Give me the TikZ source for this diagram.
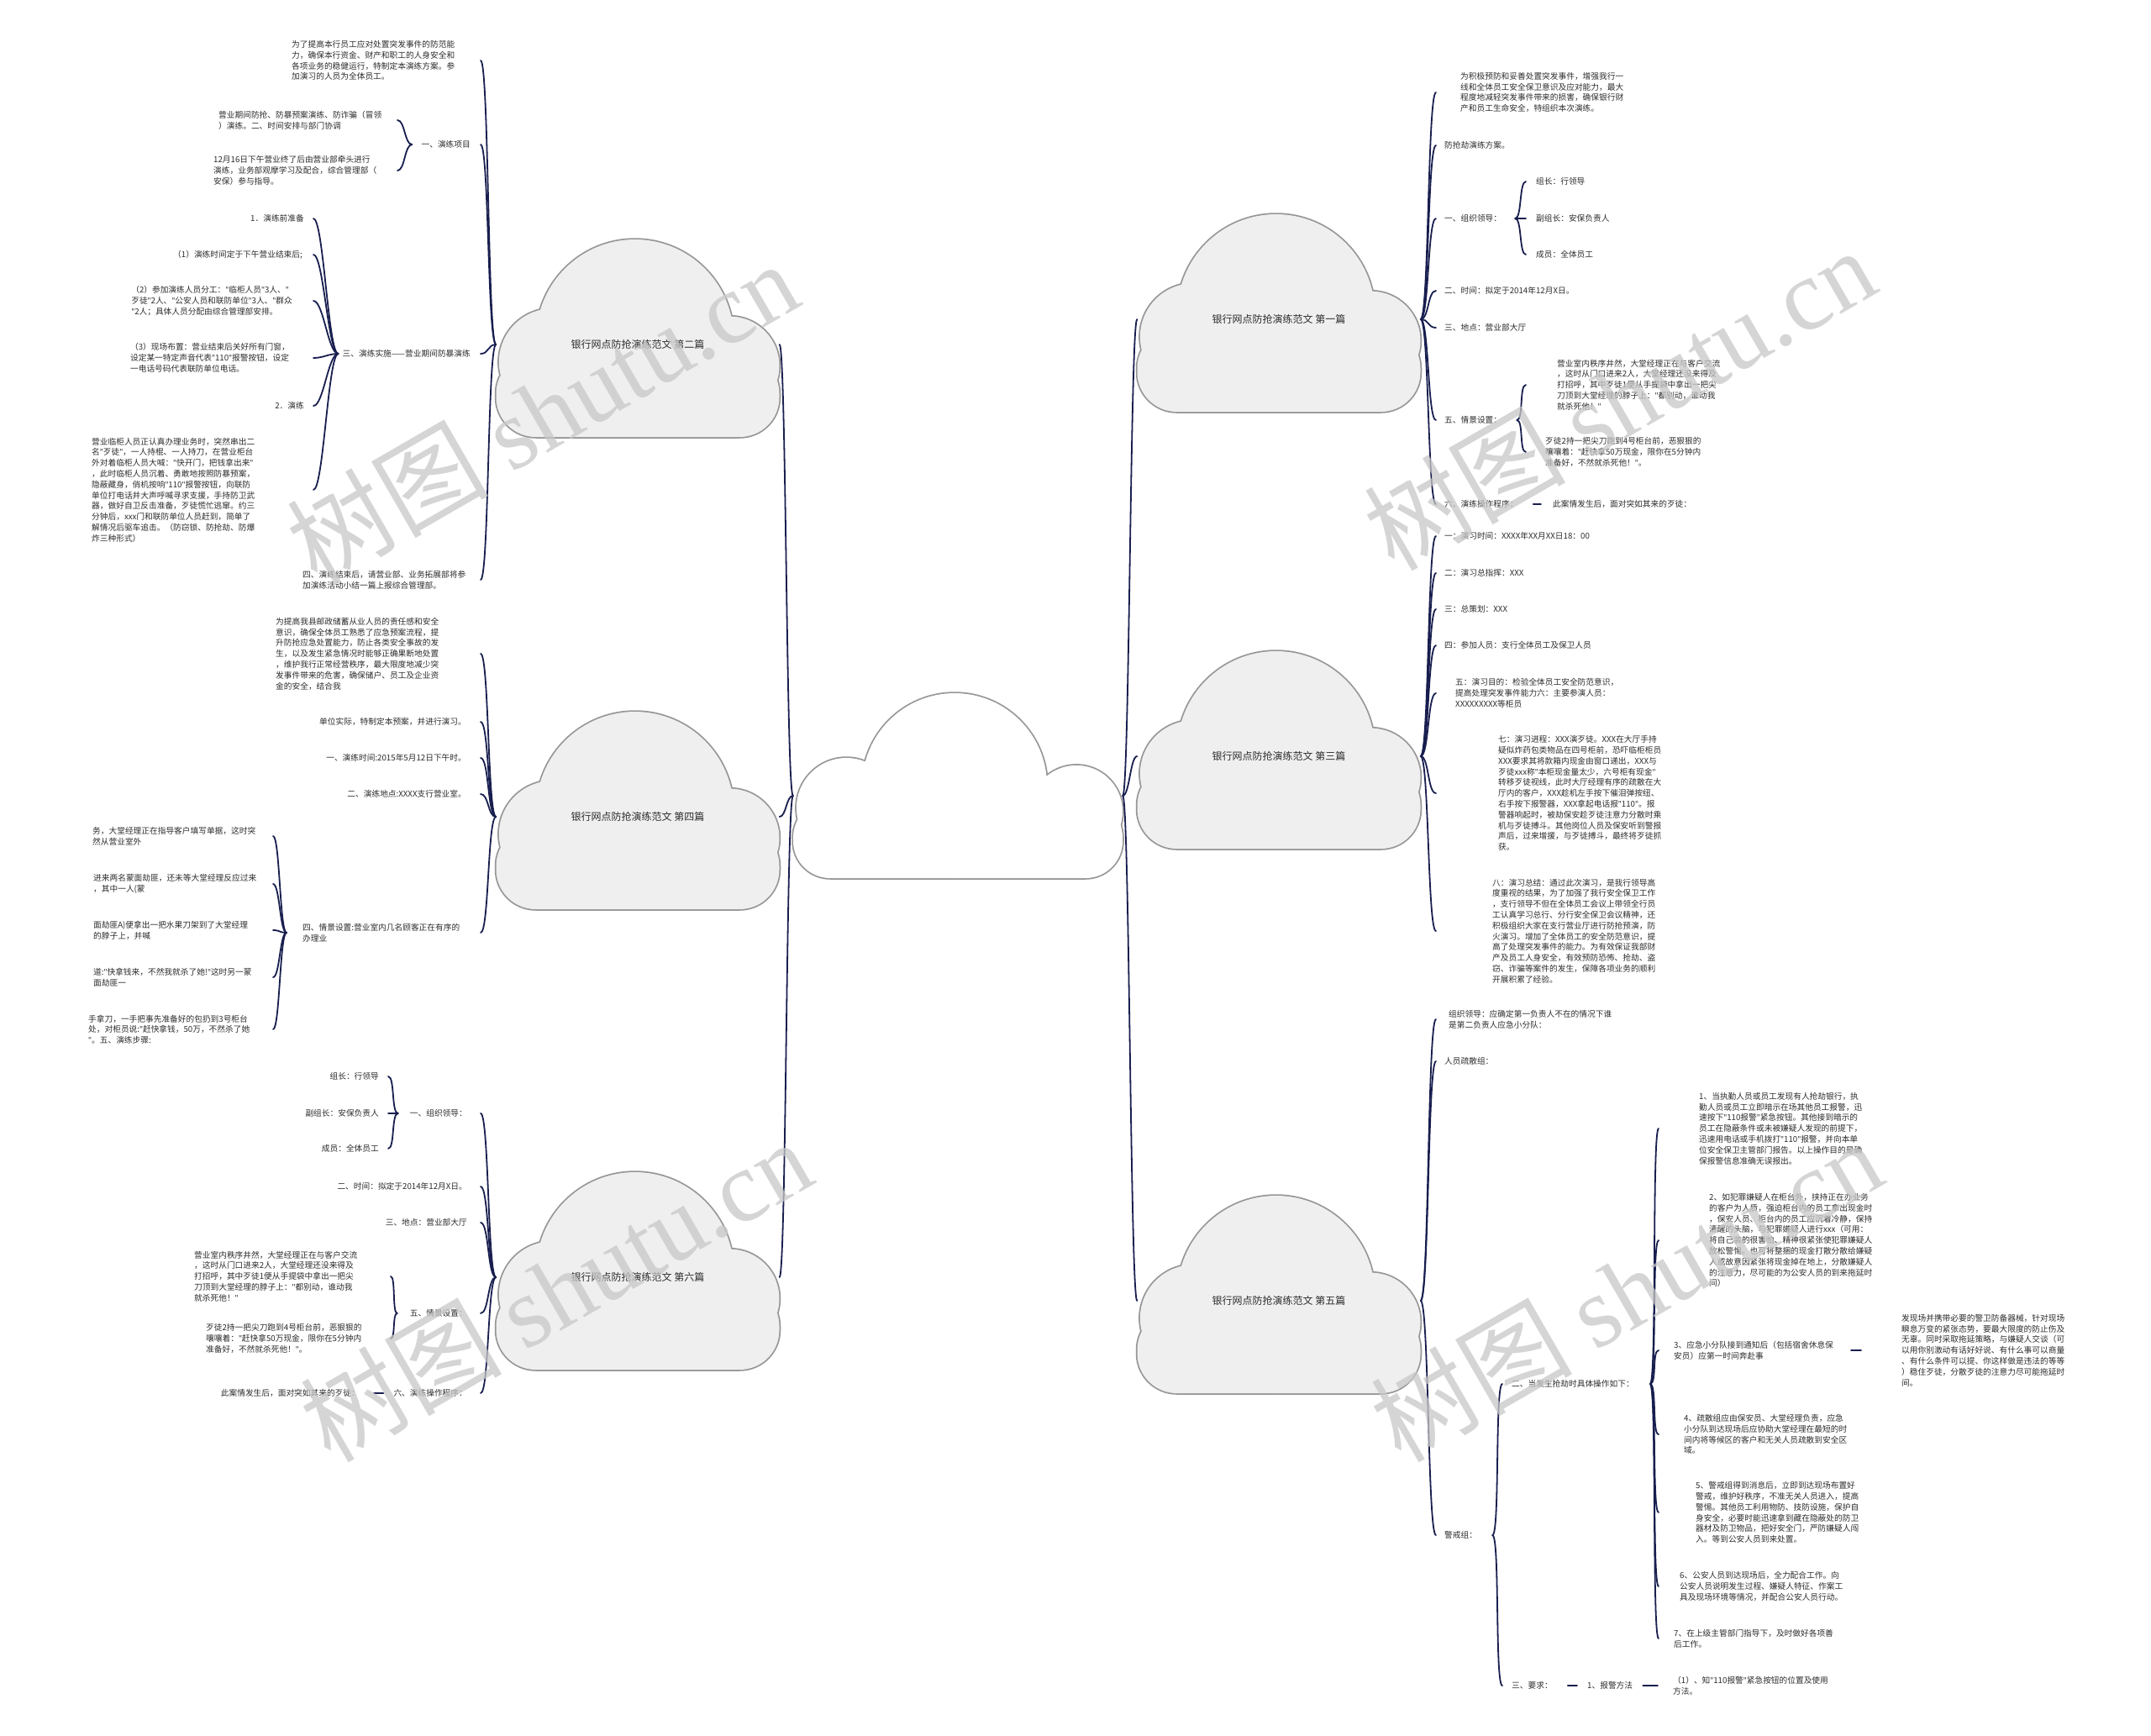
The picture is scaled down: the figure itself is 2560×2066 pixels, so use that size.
\documentclass[tikz,border=0pt]{standalone}
\usepackage{fontspec}
\setmainfont{Noto Sans CJK SC}
\newfontfamily\wmserif{Liberation Serif}
\newfontfamily\qf{Noto Sans}
\usetikzlibrary{calc}
\definecolor{txtc}{RGB}{45,45,45}
\definecolor{connc}{RGB}{24,30,78}
\definecolor{cloudline}{RGB}{150,150,150}
\definecolor{cloudfill}{RGB}{239,239,239}
\definecolor{wmc}{RGB}{200,200,200}
\tikzset{
 txt/.style={font=\fontsize{9.7}{12.8}\selectfont, text=txtc, inner sep=0pt, align=left},
 ctitle/.style={font=\fontsize{12}{14}\selectfont, text=txtc, minimum width=337pt, inner sep=0pt, align=center},
 conn/.style={draw=connc, line width=1.8pt, line cap=round},
 cloudedge/.style={draw=cloudline, line width=3.5pt},
 wm/.style={font=\fontsize{120}{130}\selectfont, text=wmc, text opacity=0.75, rotate=30, inner sep=0pt},
}
\newcommand{\lkL}[3]{\draw[conn] (#1) .. controls +(-#3,0) and +(#3,0) .. (#2);}
\newcommand{\lkR}[3]{\draw[conn] (#1) .. controls +(#3,0) and +(-#3,0) .. (#2);}
\newcommand{\cloudpass}[1]{%
\path[#1] (\bx,\rb) circle[radius=\rb];
\path[#1] (\lx,\ly) circle[radius=\rl];
\path[#1] (\rx,\ry) circle[radius=\rr];
\path[#1,rounded corners=\rc pt] (0,\bt) rectangle (\cW,\cH);}
\newcommand{\cloudshape}[5]{%
\begin{scope}[shift={(#1,#2)}]
\pgfmathsetmacro\cW{#3}\pgfmathsetmacro\cH{#4}%
\pgfmathsetmacro\rb{0.5*\cH}\pgfmathsetmacro\bx{0.49*\cW}%
\pgfmathsetmacro\rl{0.27*\cH}\pgfmathsetmacro\lx{\rl+0.01*\cW}\pgfmathsetmacro\ly{0.62*\cH}%
\pgfmathsetmacro\rr{0.25*\cH}\pgfmathsetmacro\rx{\cW-\rr}\pgfmathsetmacro\ry{0.64*\cH}%
\pgfmathsetmacro\rc{0.2*\cH}\pgfmathsetmacro\bt{0.58*\cH}%
\cloudpass{cloudedge,fill=#5}
\cloudpass{fill=#5}
\end{scope}}

\begin{document}
{\catcode`\"=\active \gdef"{{\qf\char34 }}}
\catcode`\"=\active
\begin{tikzpicture}[x=1pt,y=-1pt]
\useasboundingbox (0,0) rectangle (2560,2066);
\fill[white] (0,0) rectangle (2560,2066);

% ---------- clouds ----------
\cloudshape{944}{825}{392}{220}{white}
\cloudshape{590.5}{285}{337}{235}{cloudfill}
\cloudshape{590.5}{847}{337}{235}{cloudfill}
\cloudshape{590.5}{1395}{337}{235}{cloudfill}
\cloudshape{1353.5}{255}{337}{235}{cloudfill}
\cloudshape{1353.5}{775}{337}{235}{cloudfill}
\cloudshape{1353.5}{1423}{337}{235}{cloudfill}

\node[minimum width=392pt, minimum height=1pt, inner sep=0pt] (c0) at (1140,947) {};
\node[ctitle] (c2) at (759,410) {银行网点防抢演练范文 第二篇};
\node[ctitle] (c4) at (759,972) {银行网点防抢演练范文 第四篇};
\node[ctitle] (c6) at (759,1520) {银行网点防抢演练范文 第六篇};
\node[ctitle] (c1) at (1522,380) {银行网点防抢演练范文 第一篇};
\node[ctitle] (c3) at (1522,900) {银行网点防抢演练范文 第三篇};
\node[ctitle] (c5) at (1522,1548) {银行网点防抢演练范文 第五篇};

\lkL{c0.west}{c2.east}{8}
\lkL{c0.west}{c4.east}{8}
\lkL{c0.west}{c6.east}{8}
\lkR{c0.east}{c1.west}{8}
\lkR{c0.east}{c3.west}{8}
\lkR{c0.east}{c5.west}{8}

\coordinate (LX) at (572,0);
\coordinate (RX) at (1709,0);

% ---------- 第二篇 ----------
\node[txt,anchor=west] (n2a) at (347,72) {为了提高本行员工应对处置突发事件的防范能\\力，确保本行资金、财产和职工的人身安全和\\各项业务的稳健运行，特制定本演练方案。参\\加演习的人员为全体员工。};
\node[txt,anchor=east] (n2b) at (560,172) {一、演练项目};
\node[txt,anchor=west] (n2b1) at (260,143) {营业期间防抢、防暴预案演练、防诈骗（冒领\\）演练。二、时间安排与部门协调};
\node[txt,anchor=west] (n2b2) at (254,203) {12月16日下午营业终了后由营业部牵头进行\\演练，业务部观摩学习及配合，综合管理部（\\安保）参与指导。};
\node[txt,anchor=east] (n2c) at (560,421) {三、演练实施——营业期间防暴演练};
\node[txt,anchor=east] (n2c1) at (362,260) {1．演练前准备};
\node[txt,anchor=east] (n2c2) at (360,303) {（1）演练时间定于下午营业结束后;};
\node[txt,anchor=east] (n2c3) at (348,358) {（2）参加演练人员分工："临柜人员"3人、"\\歹徒"2人、"公安人员和联防单位"3人、"群众\\"2人；具体人员分配由综合管理部安排。};
\node[txt,anchor=east] (n2c4) at (345,426) {（3）现场布置：营业结束后关好所有门窗，\\设定某一特定声音代表"110"报警按钮，设定\\一电话号码代表联防单位电话。};
\node[txt,anchor=east] (n2c5) at (362,483) {2．演练};
\node[txt,anchor=west] (n2c6) at (109,583) {营业临柜人员正认真办理业务时，突然串出二\\名"歹徒"，一人持棍、一人持刀，在营业柜台\\外对着临柜人员大喊："快开门，把钱拿出来"\\，此时临柜人员沉着、勇敢地按照防暴预案，\\隐蔽藏身，俏机按响"110"报警按钮，向联防\\单位打电话并大声呼喊寻求支援，手持防卫武\\器，做好自卫反击准备，歹徒慌忙逃窜。约三\\分钟后，xxx门和联防单位人员赶到，简单了\\解情况后驱车追击。（防窃锁、防抢劫、防爆\\炸三种形式）};
\node[txt,anchor=west] (n2d) at (360,690) {四、演练结束后，请营业部、业务拓展部将参\\加演练活动小结一篇上报综合管理部。};

\lkL{c2.west}{n2a -| LX}{10}
\lkL{c2.west}{n2b -| LX}{10}
\lkL{c2.west}{n2c -| LX}{10}
\lkL{c2.west}{n2d -| LX}{10}
\coordinate (B2b) at (473,0);
\lkL{[xshift=-11pt]n2b.west}{n2b1 -| B2b}{9}
\lkL{[xshift=-11pt]n2b.west}{n2b2 -| B2b}{9}
\coordinate (B2c) at (373,0);
\foreach \k in {n2c1,n2c2,n2c3,n2c4,n2c5,n2c6}{\lkL{[xshift=-5pt]n2c.west}{\k -| B2c}{12}}

% ---------- 第四篇 ----------
\node[txt,anchor=west] (n4a) at (328,778) {为提高我县邮政储蓄从业人员的责任感和安全\\意识，确保全体员工熟悉了应急预案流程，提\\升防抢应急处置能力，防止各类安全事故的发\\生，以及发生紧急情况时能够正确果断地处置\\，维护我行正常经营秩序，最大限度地减少突\\发事件带来的危害，确保储户、员工及企业资\\金的安全，结合我};
\node[txt,anchor=east] (n4b) at (555,859) {单位实际，特制定本预案，并进行演习。};
\node[txt,anchor=east] (n4c) at (555,902) {一、演练时间:2015年5月12日下午时。};
\node[txt,anchor=east] (n4d) at (555,945) {二、演练地点:XXXX支行营业室。};
\node[txt,anchor=west] (n4e) at (360,1110) {四、情景设置:营业室内几名顾客正在有序的\\办理业};
\node[txt,anchor=west] (n4e1) at (110,995) {务，大堂经理正在指导客户填写单据，这时突\\然从营业室外};
\node[txt,anchor=west] (n4e2) at (111,1052) {进来两名蒙面劫匪，还未等大堂经理反应过来\\，其中一人(蒙};
\node[txt,anchor=west] (n4e3) at (111,1107) {面劫匪A)便拿出一把水果刀架到了大堂经理\\的脖子上，并喊};
\node[txt,anchor=west] (n4e4) at (111,1163) {道:"快拿钱来，不然我就杀了她!"这时另一蒙\\面劫匪一};
\node[txt,anchor=west] (n4e5) at (105,1225) {手拿刀，一手把事先准备好的包扔到3号柜台\\处，对柜员说:"赶快拿钱，50万，不然杀了她\\"。五、演练步骤:};

\foreach \k in {n4a,n4b,n4c,n4d,n4e}{\lkL{c4.west}{\k -| LX}{10}}
\coordinate (B4e) at (325,0);
\foreach \k in {n4e1,n4e2,n4e3,n4e4,n4e5}{\lkL{[xshift=-19pt]n4e.west}{\k -| B4e}{8}}

% ---------- 第六篇 ----------
\node[txt,anchor=east] (n6a) at (556,1325) {一、组织领导：};
\node[txt,anchor=east] (n6a1) at (451,1281) {组长：行领导};
\node[txt,anchor=east] (n6a2) at (451,1325) {副组长：安保负责人};
\node[txt,anchor=east] (n6a3) at (451,1367) {成员：全体员工};
\node[txt,anchor=east] (n6b) at (556,1412) {二、时间：拟定于2014年12月X日。};
\node[txt,anchor=east] (n6c) at (556,1455) {三、地点：营业部大厅};
\node[txt,anchor=east] (n6d) at (556,1563) {五、情景设置：};
\node[txt,anchor=west] (n6d1) at (231,1519) {营业室内秩序井然，大堂经理正在与客户交流\\，这时从门口进来2人，大堂经理还没来得及\\打招呼，其中歹徒1便从手提袋中拿出一把尖\\刀顶到大堂经理的脖子上："都别动，谁动我\\就杀死他！"};
\node[txt,anchor=west] (n6d2) at (245,1593) {歹徒2持一把尖刀跑到4号柜台前，恶狠狠的\\嚷嚷着："赶快拿50万现金，限你在5分钟内\\准备好，不然就杀死他！"。};
\node[txt,anchor=east] (n6e) at (556,1658) {六、演练操作程序：};
\node[txt,anchor=east] (n6e1) at (428,1658) {此案情发生后，面对突如其来的歹徒：};

\foreach \k in {n6a,n6b,n6c,n6d,n6e}{\lkL{c6.west}{\k -| LX}{10}}
\coordinate (B6a) at (462,0);
\foreach \k in {n6a1,n6a2,n6a3}{\lkL{[xshift=-14pt]n6a.west}{\k -| B6a}{8}}
\coordinate (B6d) at (465,0);
\foreach \k in {n6d1,n6d2}{\lkL{[xshift=-15pt]n6d.west}{\k -| B6d}{6}}
\draw[conn] ([xshift=-12pt]n6e.west) -- ([xshift=17pt]n6e1.east);

% ---------- 第一篇 ----------
\node[txt,anchor=west] (n1a) at (1738,110) {为积极预防和妥善处置突发事件，增强我行一\\线和全体员工安全保卫意识及应对能力，最大\\程度地减轻突发事件带来的损害，确保银行财\\产和员工生命安全，特组织本次演练。};
\node[txt,anchor=west] (n1b) at (1719,173) {防抢劫演练方案。};
\node[txt,anchor=west] (n1c) at (1719,260) {一、组织领导：};
\node[txt,anchor=west] (n1c1) at (1828,216) {组长：行领导};
\node[txt,anchor=west] (n1c2) at (1828,260) {副组长：安保负责人};
\node[txt,anchor=west] (n1c3) at (1828,303) {成员：全体员工};
\node[txt,anchor=west] (n1d) at (1719,346) {二、时间：拟定于2014年12月X日。};
\node[txt,anchor=west] (n1e) at (1719,390) {三、地点：营业部大厅};
\node[txt,anchor=west] (n1f) at (1719,500) {五、情景设置：};
\node[txt,anchor=west] (n1f1) at (1853,458) {营业室内秩序井然，大堂经理正在与客户交流\\，这时从门口进来2人，大堂经理还没来得及\\打招呼，其中歹徒1便从手提袋中拿出一把尖\\刀顶到大堂经理的脖子上："都别动，谁动我\\就杀死他！"};
\node[txt,anchor=west] (n1f2) at (1839,538) {歹徒2持一把尖刀跑到4号柜台前，恶狠狠的\\嚷嚷着："赶快拿50万现金，限你在5分钟内\\准备好，不然就杀死他！"。};
\node[txt,anchor=west] (n1g) at (1719,600) {六、演练操作程序：};
\node[txt,anchor=west] (n1g1) at (1848,600) {此案情发生后，面对突如其来的歹徒：};

\foreach \k in {n1a,n1b,n1c,n1d,n1e,n1f,n1g}{\lkR{c1.east}{\k -| RX}{10}}
\coordinate (B1c) at (1816,0);
\foreach \k in {n1c1,n1c2,n1c3}{\lkR{[xshift=16pt]n1c.east}{\k -| B1c}{8}}
\coordinate (B1f) at (1816,0);
\foreach \k in {n1f1,n1f2}{\lkR{[xshift=18pt]n1f.east}{\k -| B1f}{8}}
\draw[conn] ([xshift=18pt]n1g.east) -- ([xshift=-14pt]n1g1.west);

% ---------- 第三篇 ----------
\node[txt,anchor=west] (n3a) at (1719,638) {一：演习时间：XXXX年XX月XX日18：00};
\node[txt,anchor=west] (n3b) at (1719,682) {二：演习总指挥：XXX};
\node[txt,anchor=west] (n3c) at (1719,725) {三：总策划：XXX};
\node[txt,anchor=west] (n3d) at (1719,768) {四：参加人员：支行全体员工及保卫人员};
\node[txt,anchor=west] (n3e) at (1732,825) {五：演习目的：检验全体员工安全防范意识，\\提高处理突发事件能力六：主要参演人员：\\XXXXXXXXX等柜员};
\node[txt,anchor=west] (n3f) at (1783,944) {七：演习进程：XXX演歹徒。XXX在大厅手持\\疑似炸药包类物品在四号柜前，恐吓临柜柜员\\XXX要求其将款箱内现金由窗口递出，XXX与\\歹徒xxx称"本柜现金量太少，六号柜有现金"\\转移歹徒视线，此时大厅经理有序的疏散在大\\厅内的客户，XXX趁机左手按下催泪弹按纽、\\右手按下报警器，XXX拿起电话报"110"。报\\警器响起时，被劫保安趁歹徒注意力分散时乘\\机与歹徒搏斗。其他岗位人员及保安听到警报\\声后，过来增援，与歹徒搏斗，最终将歹徒抓\\获。};
\node[txt,anchor=west] (n3g) at (1776,1108) {八：演习总结：通过此次演习，是我行领导高\\度重视的结果，为了加强了我行安全保卫工作\\，支行领导不但在全体员工会议上带领全行员\\工认真学习总行、分行安全保卫会议精神，还\\积极组织大家在支行营业厅进行防抢预演，防\\火演习。增加了全体员工的安全防范意识，提\\高了处理突发事件的能力。为有效保证我部财\\产及员工人身安全，有效预防恐怖、抢劫、盗\\窃、诈骗等案件的发生，保障各项业务的顺利\\开展积累了经验。};

\foreach \k in {n3a,n3b,n3c,n3d,n3e,n3f,n3g}{\lkR{c3.east}{\k -| RX}{10}}

% ---------- 第五篇 ----------
\node[txt,anchor=west] (n5a) at (1724,1213) {组织领导：应确定第一负责人不在的情况下谁\\是第二负责人应急小分队：};
\node[txt,anchor=west] (n5b) at (1719,1263) {人员疏散组：};
\node[txt,anchor=west] (n5c) at (1719,1827) {警戒组：};
\node[txt,anchor=west] (n5c1) at (1799,1647) {二、当发生抢劫时具体操作如下：};
\node[txt,anchor=west] (n5d1) at (2022,1343) {1、当执勤人员或员工发现有人抢劫银行，执\\勤人员或员工立即暗示在场其他员工报警，迅\\速按下"110报警"紧急按钮。其他接到暗示的\\员工在隐蔽条件或未被嫌疑人发现的前提下，\\迅速用电话或手机拨打"110"报警，并向本单\\位安全保卫主管部门报告。以上操作目的是确\\保报警信息准确无误报出。};
\node[txt,anchor=west] (n5d2) at (2034,1476) {2、如犯罪嫌疑人在柜台外，挟持正在办业务\\的客户为人质，强迫柜台内的员工拿出现金时\\，保安人员、柜台内的员工应沉着冷静，保持\\清醒的头脑，与犯罪嫌疑人进行xxx（可用：\\将自己装的很害怕、精神很紧张使犯罪嫌疑人\\放松警惕。也可将整捆的现金打散分散给嫌疑\\人或故意因紧张将现金掉在地上，分散嫌疑人\\的注意力，尽可能的为公安人员的到来拖延时\\间）};
\node[txt,anchor=west] (n5d3) at (1992,1607) {3、应急小分队接到通知后（包括宿舍休息保\\安员）应第一时间奔赴事};
\node[txt,anchor=west] (n5d3a) at (2263,1607) {发现场并携带必要的警卫防备器械，针对现场\\瞬息万变的紧张态势，要最大限度的防止伤及\\无辜。同时采取拖延策略，与嫌疑人交谈（可\\以用你别激动有话好好说、有什么事可以商量\\、有什么条件可以提、你这样做是违法的等等\\）稳住歹徒，分散歹徒的注意力尽可能拖延时\\间。};
\node[txt,anchor=west] (n5d4) at (2004,1707) {4、疏散组应由保安员、大堂经理负责，应急\\小分队到达现场后应协助大堂经理在最短的时\\间内将等候区的客户和无关人员疏散到安全区\\域。};
\node[txt,anchor=west] (n5d5) at (2018,1800) {5、警戒组得到消息后，立即到达现场布置好\\警戒，维护好秩序，不准无关人员进入，提高\\警惕。其他员工利用物防、技防设施，保护自\\身安全，必要时能迅速拿到藏在隐蔽处的防卫\\器材及防卫物品，把好安全门，严防嫌疑人闯\\入。等到公安人员到来处置。};
\node[txt,anchor=west] (n5d6) at (1999,1888) {6、公安人员到达现场后，全力配合工作。向\\公安人员说明发生过程、嫌疑人特征、作案工\\具及现场环境等情况，并配合公安人员行动。};
\node[txt,anchor=west] (n5d7) at (1992,1950) {7、在上级主管部门指导下，及时做好各项善\\后工作。};
\node[txt,anchor=west] (n5c2) at (1799,2006) {三、要求：};
\node[txt,anchor=west] (n5c2a) at (1889,2006) {1、报警方法};
\node[txt,anchor=west] (n5c2b) at (1991,2006) {（1）、知"110报警"紧急按钮的位置及使用\\方法。};

\foreach \k in {n5a,n5b,n5c}{\lkR{c5.east}{\k -| RX}{10}}
\coordinate (B5c) at (1788,0);
\foreach \k in {n5c1,n5c2}{\lkR{[xshift=18pt]n5c.east}{\k -| B5c}{9}}
\coordinate (B5d) at (1974,0);
\foreach \k in {n5d1,n5d2,n5d3,n5d4,n5d5,n5d6,n5d7}{\lkR{[xshift=19pt]n5c1.east}{\k -| B5d}{8}}
\draw[conn] ([xshift=21pt]n5d3.east) -- ([xshift=-48pt]n5d3a.west);
\draw[conn] ([xshift=18pt]n5c2.east) -- ([xshift=-12pt]n5c2a.west);
\draw[conn] ([xshift=12pt]n5c2a.east) -- ([xshift=-18pt]n5c2b.west);

% ---------- watermarks ----------
\node[wm] (wm1) at (645,490) {树图 {\wmserif shutu.cn}};
\node[wm] (wm2) at (1927,474) {树图 {\wmserif shutu.cn}};
\node[wm] (wm3) at (661,1535) {树图 {\wmserif shutu.cn}};
\node[wm] (wm4) at (1935,1535) {树图 {\wmserif shutu.cn}};
\end{tikzpicture}
\end{document}
